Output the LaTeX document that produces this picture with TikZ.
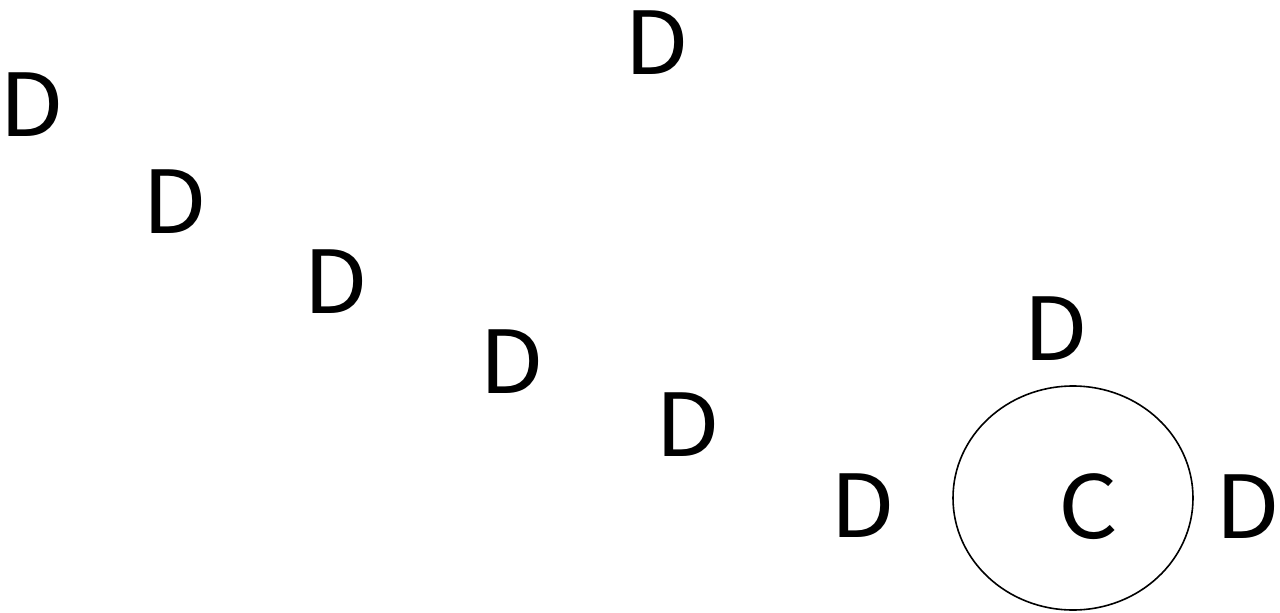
\documentclass[tikz,border=0pt]{standalone}
\usepackage{fontspec}
\setmainfont{Noto Sans CJK SC}
\tikzset{
  letter/.style={inner sep=0pt, font=\fontsize{87}{87}\selectfont, xscale=1.08, transform shape},
  ring/.style={draw, line width=1.6pt}
}
\begin{document}
\begin{tikzpicture}[x=1pt,y=-1pt]
\useasboundingbox (0,0) rectangle (1280,613);
\draw[ring] (1073,498) ellipse [x radius=120, y radius=112];
\node[letter] (d1) at (32,105) {D};
\node[letter] (d2) at (657,43) {D};
\node[letter] (d3) at (175,202) {D};
\node[letter] (d4) at (336,282) {D};
\node[letter] (d5) at (512,362) {D};
\node[letter] (d6) at (688,425) {D};
\node[letter] (d7) at (863,506) {D};
\node[letter] (d8) at (1056,329) {D};
\node[letter] (d9) at (1248,507) {D};
\node[letter] (c) at (1088,507) {C};
\end{tikzpicture}
\end{document}
